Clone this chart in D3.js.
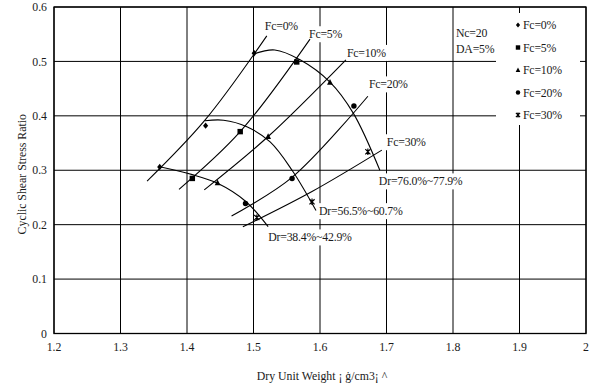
<!DOCTYPE html>
<html><head><meta charset="utf-8">
<script src="https://cdn.jsdelivr.net/npm/d3@7"></script>
<style>body{margin:0;background:#fff}svg{display:block}text{font-family:"Liberation Serif","Times New Roman",serif;fill:#1a1a1a}</style>
</head><body>
<svg id="c" width="592" height="387"></svg>
<script>
// ---- data ----
const xTicks = [1.2,1.3,1.4,1.5,1.6,1.7,1.8,1.9,2.0];
const xTickLabels = ["1.2","1.3","1.4","1.5","1.6","1.7","1.8","1.9","2"];
const yTicks = [0,0.1,0.2,0.3,0.4,0.5,0.6];
const yTickLabels = ["0","0.1","0.2","0.3","0.4","0.5","0.6"];
const seriesNames = ["Fc=0%","Fc=5%","Fc=10%","Fc=20%","Fc=30%"];
// measured points [dry unit weight, CSR]
const fc0  = [[1.359,0.306],[1.428,0.382],[1.501,0.515]];
const fc5  = [[1.408,0.285],[1.480,0.371],[1.565,0.499]];
const fc10 = [[1.446,0.277],[1.522,0.362],[1.615,0.462]];
const fc20 = [[1.488,0.239],[1.558,0.285],[1.651,0.418]];
const fc30 = [[1.505,0.213],[1.588,0.242],[1.672,0.334]];
// fitted Fc lines
const fit0  = [[1.340,0.280],[1.427,0.392],[1.520,0.547]];
const fit5  = [[1.388,0.265],[1.480,0.371],[1.585,0.541]];
const fit10 = [[1.426,0.264],[1.522,0.362],[1.639,0.503]];
const fit20 = [[1.467,0.216],[1.558,0.287],[1.672,0.436]];
const fit30 = [[1.484,0.196],[1.588,0.261],[1.693,0.337]];
// relative-density curves
const drNames = ["Dr=38.4%~42.9%","Dr=56.5%~60.7%","Dr=76.0%~77.9%"];
const dr38 = [[1.359,0.3065],[1.408,0.292],[1.446,0.276],[1.488,0.243],[1.522,0.1963]];
const dr56 = [[1.427,0.391],[1.455,0.392],[1.490,0.380],[1.525,0.352],[1.558,0.300],[1.594,0.226]];
const dr76 = [[1.501,0.514],[1.532,0.521],[1.570,0.503],[1.615,0.462],[1.650,0.405],[1.690,0.300]];
const noteLines = ["Nc=20","DA=5%"];

// ---- layout ----
const svg = d3.select("#c");
const x = d3.scaleLinear().domain([1.2,2.0]).range([54,586]);
const y = d3.scaleLinear().domain([0,0.6]).range([333.5,7]);
const FS = 11.8;

// grid
svg.append("g").selectAll("line").data(yTicks).join("line")
  .attr("x1",x(1.2)).attr("x2",x(2)).attr("y1",d=>y(d)).attr("y2",d=>y(d))
  .attr("stroke","#000").attr("stroke-width",1);
svg.append("g").selectAll("line").data(xTicks).join("line")
  .attr("y1",y(0)).attr("y2",y(0.6)).attr("x1",d=>x(d)).attr("x2",d=>x(d))
  .attr("stroke","#000").attr("stroke-width",1);

const labelLayer = svg.append("g");
function boxedText(tx,ty,str,anchor){
  const t = labelLayer.append("text").attr("x",tx).attr("y",ty).attr("dy","0.35em")
    .attr("font-size",FS).attr("text-anchor",anchor||"start").attr("letter-spacing",-0.2).text(str);
  const b = t.node().getBBox();
  labelLayer.insert("rect","text").attr("x",b.x-2).attr("y",b.y-1).attr("width",b.width+4).attr("height",b.height+2).attr("fill","#fff");
  return t;
}

// legend box background
svg.append("rect").attr("x",496).attr("y",13).attr("width",84).attr("height",112).attr("fill","#fff");

const curveLayer = svg.append("g");
const line = d3.line().x(d=>x(d[0])).y(d=>y(d[1])).curve(d3.curveCatmullRom.alpha(0.5));
const fits = [fit0,fit5,fit10,fit20,fit30];
const drs = [dr38,dr56,dr76];

// Fc labels (offsets relative to end of fitted line)
const fcLabelOff = [[-2,-10],[-1,-5],[1,-7],[1,-12],[5,-8]];
fits.forEach((f,i)=>{
  const e = f[f.length-1];
  boxedText(x(e[0])+fcLabelOff[i][0], y(e[1])+fcLabelOff[i][1], seriesNames[i]);
});
const drLabelOff = [[0,10.6],[3,0.5],[-1,11]];
drs.forEach((c,i)=>{
  const e = c[c.length-1];
  boxedText(x(e[0])+drLabelOff[i][0], y(e[1])+drLabelOff[i][1], drNames[i]);
});
noteLines.forEach((s,i)=>boxedText(456, 33+16*i, s));

fits.forEach(f=>curveLayer.append("path").attr("d",line(f)).attr("fill","none").attr("stroke","#000").attr("stroke-width",1.1));
drs.forEach(c=>curveLayer.append("path").attr("d",line(c)).attr("fill","none").attr("stroke","#000").attr("stroke-width",1.1));

// frame
svg.append("rect").attr("x",x(1.2)).attr("y",y(0.6)).attr("width",x(2)-x(1.2)).attr("height",y(0)-y(0.6))
  .attr("fill","none").attr("stroke","#000").attr("stroke-width",1.3);

// markers
function marker(g,kind,s){
  if(kind===0) g.append("path").attr("d",`M0,${-s}L${s*0.8},0L0,${s}L${-s*0.8},0Z`).attr("fill","#000");
  else if(kind===1) g.append("rect").attr("x",-s*0.85).attr("y",-s*0.85).attr("width",s*1.7).attr("height",s*1.7).attr("fill","#000");
  else if(kind===2) g.append("path").attr("d",`M0,${-s}L${s*0.9},${s*0.8}L${-s*0.9},${s*0.8}Z`).attr("fill","#000");
  else if(kind===3) g.append("circle").attr("r",s*0.85).attr("fill","#000");
  else g.append("path").attr("d",`M${-s*0.8},${-s*0.8}L${s*0.8},${s*0.8}M${-s*0.8},${s*0.8}L${s*0.8},${-s*0.8}M0,${-s}L0,${s}`).attr("stroke","#000").attr("stroke-width",1.2).attr("fill","none");
}
const pts = [fc0,fc5,fc10,fc20,fc30];
pts.forEach((arr,i)=>{
  arr.forEach(p=>{
    const g = svg.append("g").attr("transform",`translate(${x(p[0])},${y(p[1])})`);
    marker(g,i,3.2);
  });
});

// legend
seriesNames.forEach((n,i)=>{
  const yy = 25 + 22.5*i;
  const g = svg.append("g").attr("transform",`translate(518,${yy})`);
  marker(g,i,2.6);
  svg.append("text").attr("x",523).attr("y",yy).attr("dy","0.35em").attr("font-size",FS).attr("letter-spacing",-0.2).text(n);
});

// tick labels
svg.append("g").selectAll("text").data(yTicks).join("text")
  .attr("x",47).attr("y",d=>y(d)).attr("dy","0.35em").attr("text-anchor","end").attr("font-size",FS)
  .text((d,i)=>yTickLabels[i]);
svg.append("g").selectAll("text").data(xTicks).join("text")
  .attr("x",d=>x(d)).attr("y",347).attr("dy","0.35em").attr("text-anchor","middle").attr("font-size",FS)
  .text((d,i)=>xTickLabels[i]);

// axis titles
svg.append("text").attr("transform",`translate(22,${y(0.3)+4}) rotate(-90)`).attr("text-anchor","middle").attr("dy","0.35em")
  .attr("font-size",FS).text("Cyclic Shear Stress Ratio");
svg.append("text").attr("x",322).attr("y",376).attr("dy","0.35em").attr("text-anchor","middle")
  .attr("font-size",FS).text("Dry Unit Weight ¡ ġ/cm3¡ ^");
</script>
</body></html>
